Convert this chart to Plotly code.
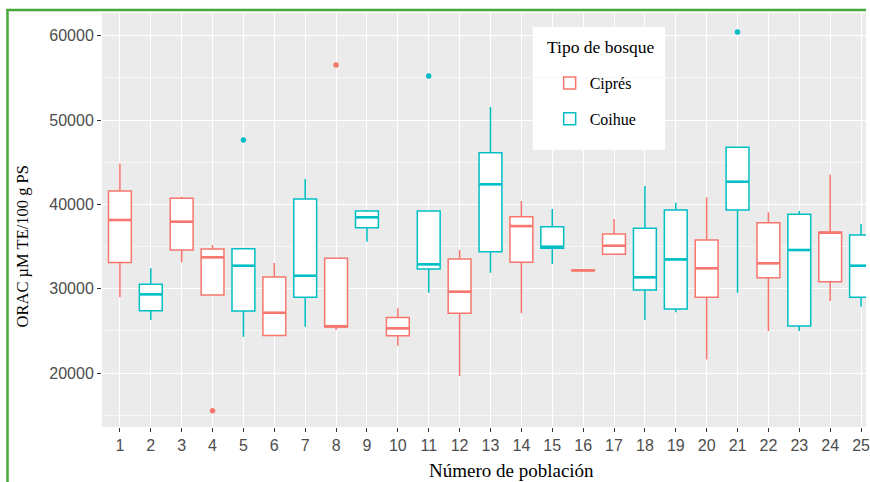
import plotly.graph_objects as go

# ---- data ----
cip_pop = [1, 3, 4, 6, 8, 10, 12, 14, 16, 17, 20, 22, 24]
cip_lo  = [29000, 33130, 29250, 24450, 25100, 23240, 19640, 27080, 32120, 34075, 21620, 24980, 28540]
cip_q1  = [33100, 34590, 29250, 24450, 25450, 24430, 27080, 33130, 32150, 34075, 28980, 31300, 30830]
cip_med = [38150, 37950, 33720, 27150, 25550, 25300, 29650, 37430, 32170, 35100, 32420, 33010, 36650]
cip_q3  = [41600, 40720, 34710, 31400, 33600, 26600, 33520, 38540, 32190, 36490, 35770, 37830, 36700]
cip_hi  = [44850, 40910, 35180, 33050, 33600, 27670, 34590, 40400, 32220, 38270, 40830, 39060, 43560]

coi_pop = [2, 5, 7, 9, 11, 13, 15, 18, 19, 21, 23, 25]
coi_lo  = [26290, 24305, 25490, 35580, 29530, 31900, 32930, 26290, 27200, 29530, 24980, 27860]
coi_q1  = [27390, 27350, 28980, 37240, 32340, 34390, 34790, 29840, 27590, 39330, 25570, 28980]
coi_med = [29330, 32730, 31540, 38470, 32890, 42380, 34980, 31350, 33480, 42690, 34590, 32730]
coi_q3  = [30520, 34750, 40640, 39210, 39210, 46130, 37350, 37160, 39330, 46770, 38820, 36370]
coi_hi  = [32420, 34750, 43000, 39330, 39210, 51550, 39450, 42180, 40200, 46770, 39210, 37670]

cip_out_pop = [4, 8]
cip_out_val = [15530, 56530]
coi_out_pop = [5, 11, 21]
coi_out_val = [47630, 55220, 60440]

x_ticks = list(range(1, 26))
y_ticks = [20000, 30000, 40000, 50000, 60000]

CIP = "#F8766D"
COI = "#00BFC4"
BOX_W = 0.74

fig = go.Figure()

def add_box(name, pops, lo, q1, med, q3, hi, color, group):
    fig.add_trace(go.Box(
        name=name, x=pops, q1=q1, median=med, q3=q3,
        lowerfence=lo, upperfence=hi,
        fillcolor="white", line=dict(color=color, width=1.5),
        whiskerwidth=0, width=BOX_W, boxpoints=False,
        legendgroup=group,
    ))
    # thicker median segments (ggplot style)
    mx, my = [], []
    for p, m in zip(pops, med):
        mx += [p - BOX_W / 2, p + BOX_W / 2, None]
        my += [m, m, None]
    fig.add_trace(go.Scatter(x=mx, y=my, mode="lines",
                             line=dict(color=color, width=2.6),
                             showlegend=False, hoverinfo="skip"))

add_box("Ciprés", cip_pop, cip_lo, cip_q1, cip_med, cip_q3, cip_hi, CIP, "a")
add_box("Coihue", coi_pop, coi_lo, coi_q1, coi_med, coi_q3, coi_hi, COI, "b")

fig.add_trace(go.Scatter(x=cip_out_pop, y=cip_out_val, mode="markers",
                         marker=dict(color=CIP, size=5.5), showlegend=False))
fig.add_trace(go.Scatter(x=coi_out_pop, y=coi_out_val, mode="markers",
                         marker=dict(color=COI, size=5.5), showlegend=False))

W, H = 870, 482
L, R, T, B = 102, 0, 13, 55
pw, ph = W - L - R, H - T - B

def px_x(p):
    return (p - L) / pw

def px_y(p):
    return (H - B - p) / ph

GREEN = "#45A83A"

fig.update_layout(
    width=W, height=H,
    margin=dict(l=L, r=R, t=T, b=B, pad=0),
    paper_bgcolor="white",
    plot_bgcolor="#EBEBEB",
    boxmode="overlay",
    showlegend=True,
    legend=dict(
        x=px_x(552), y=px_y(66), xanchor="left", yanchor="top",
        bgcolor="rgba(0,0,0,0)", borderwidth=0,
        font=dict(family="Liberation Serif", size=16, color="black"),
        tracegroupgap=12,
        itemwidth=30,
    ),
    xaxis=dict(
        range=[0.42, 25.16], tickmode="array", tickvals=x_ticks,
        ticktext=[str(v) for v in x_ticks],
        showgrid=True, gridcolor="white", gridwidth=1.4,
        zeroline=False, ticks="outside", ticklen=4, tickwidth=1,
        tickcolor="#333333", ticklabeloverflow="allow",
        tickfont=dict(family="Liberation Sans", size=16, color="#4D4D4D"),
        showline=False,
    ),
    yaxis=dict(
        range=[13600, 62700], tickmode="array", tickvals=y_ticks,
        ticktext=[str(v) for v in y_ticks],
        showgrid=True, gridcolor="white", gridwidth=1.4,
        minor=dict(tickmode="array", tickvals=[15000, 25000, 35000, 45000, 55000],
                   showgrid=True, gridcolor="#F7F7F7", gridwidth=0.7, ticks=""),
        zeroline=False, ticks="outside", ticklen=4, tickwidth=1,
        tickcolor="#333333",
        tickfont=dict(family="Liberation Sans", size=16, color="#4D4D4D"),
        showline=False,
    ),
    annotations=[
        dict(text="Tipo de bosque", xref="paper", yref="paper",
             x=px_x(547), y=px_y(47), xanchor="left", yanchor="middle",
             showarrow=False,
             font=dict(family="Liberation Serif", size=17.5, color="black")),
        dict(text="Número de población", xref="paper", yref="paper",
             x=px_x(514), y=px_y(470), xanchor="center", yanchor="middle",
             showarrow=False,
             font=dict(family="Liberation Serif", size=19, color="black")),
        dict(text="ORAC µM TE/100 g PS", xref="paper", yref="paper",
             x=px_x(22), y=px_y(246), xanchor="center", yanchor="middle",
             textangle=-90, showarrow=False,
             font=dict(family="Liberation Serif", size=16.5, color="black")),
    ],
    shapes=[
        dict(type="rect", xref="paper", yref="paper", layer="between",
             x0=px_x(535), x1=px_x(668), y0=px_y(150), y1=px_y(27),
             fillcolor="white", line=dict(width=0)),
        dict(type="line", xref="paper", yref="paper",
             x0=px_x(7), x1=px_x(7), y0=px_y(9), y1=px_y(482),
             line=dict(color=GREEN, width=2.5)),
        dict(type="line", xref="paper", yref="paper",
             x0=px_x(6), x1=px_x(870), y0=px_y(10), y1=px_y(10),
             line=dict(color=GREEN, width=2.5)),
    ],
)

fig.write_html("out.html", config={"displayModeBar": False},
               post_script="document.body.style.margin='0';document.body.style.overflow='hidden';")
